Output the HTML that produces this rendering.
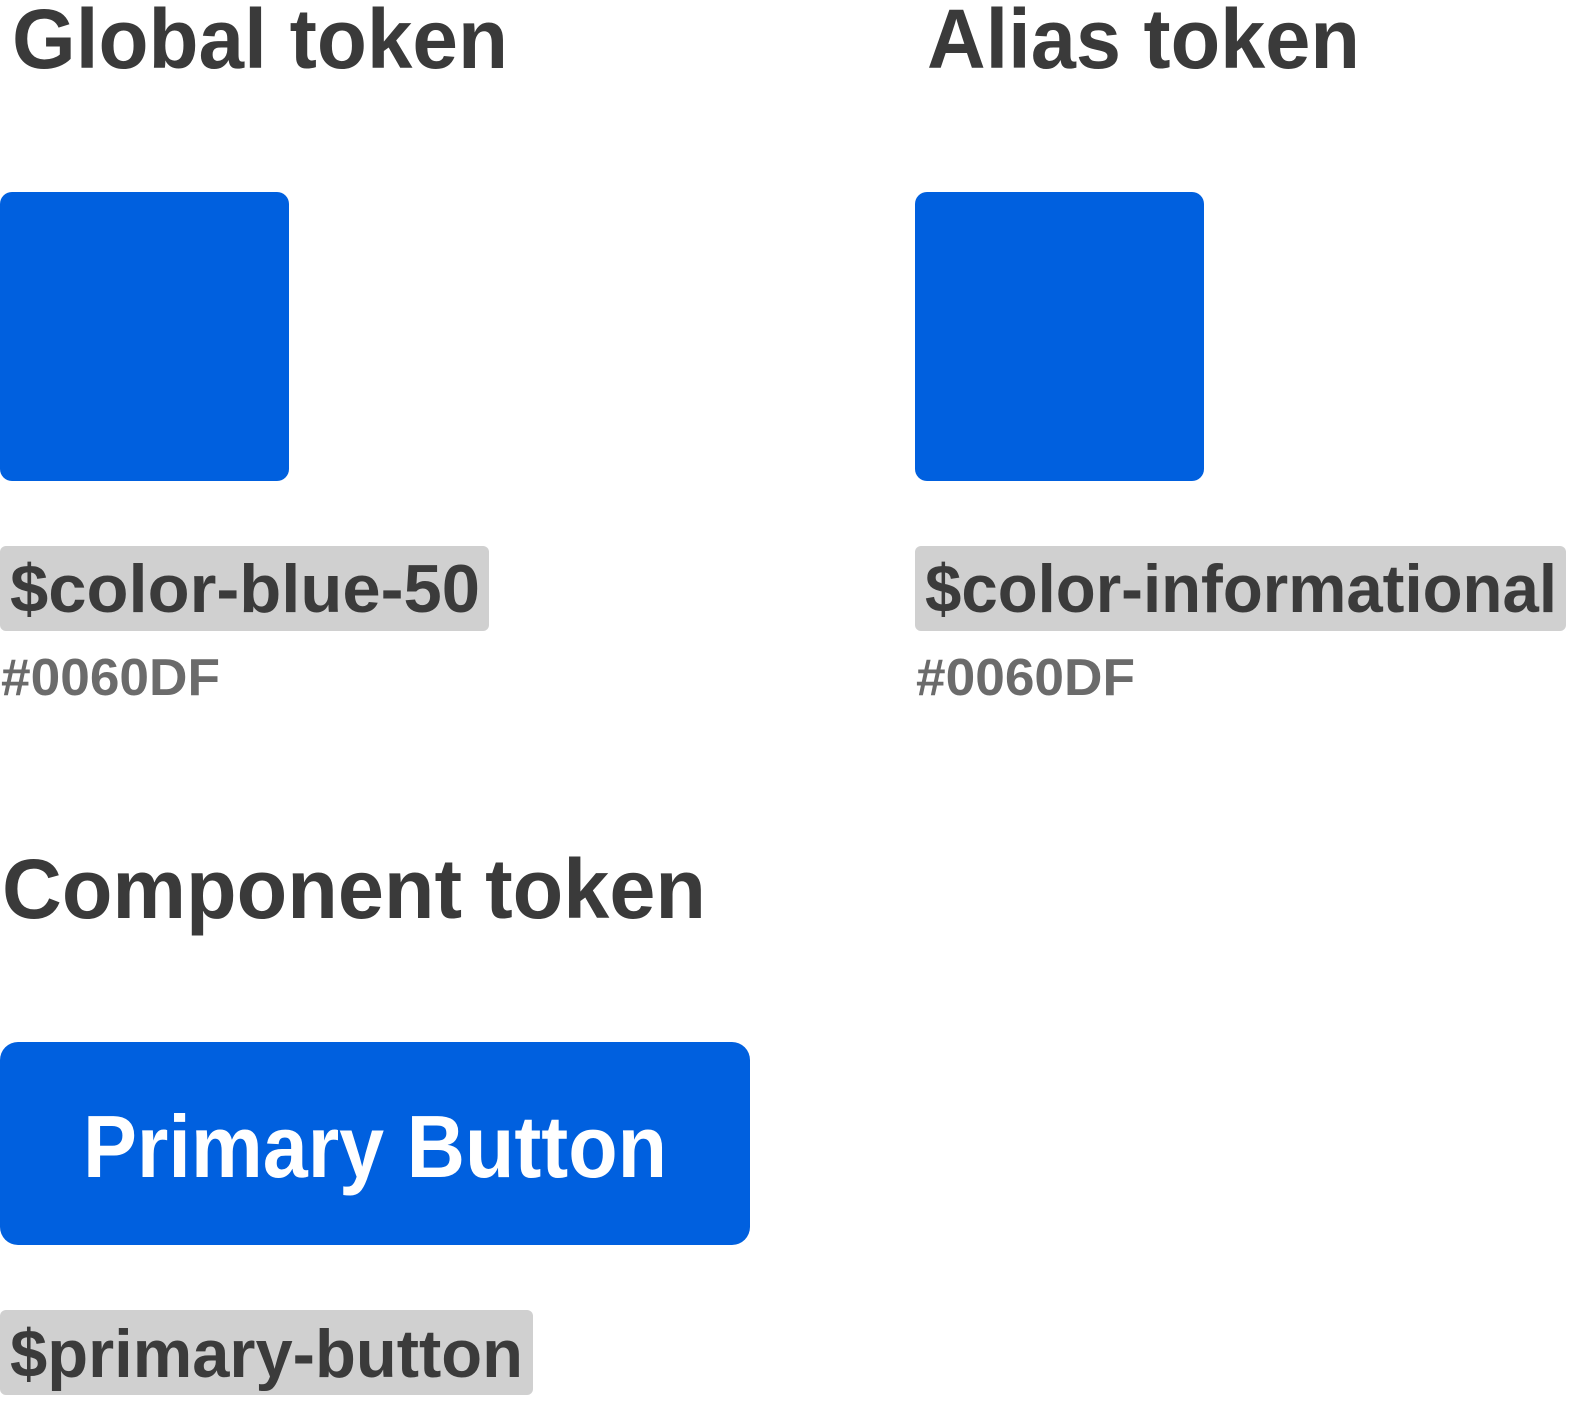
<!DOCTYPE html>
<html><head><meta charset="utf-8"><style>
html,body{margin:0;padding:0;background:#fff;width:1575px;height:1403px;overflow:hidden}
svg{display:block}
text{font-family:"Liberation Sans",sans-serif}
</style></head><body>
<svg width="1575" height="1403" viewBox="0 0 1575 1403" xmlns="http://www.w3.org/2000/svg">
<g fill="#3a3a3a" font-weight="bold">
<text x="12" y="68" font-size="84" textLength="496" lengthAdjust="spacingAndGlyphs">Global token</text>
<text x="927" y="68" font-size="84" textLength="433" lengthAdjust="spacingAndGlyphs">Alias token</text>
<text x="2" y="918" font-size="84" textLength="704" lengthAdjust="spacingAndGlyphs">Component token</text>
</g>
<rect x="0" y="192" width="289" height="289" rx="12" fill="#0060DF"/>
<rect x="915" y="192" width="289" height="289" rx="12" fill="#0060DF"/>
<rect x="0" y="546" width="489" height="85" rx="6" fill="#d0d0d0"/>
<rect x="915" y="546" width="651" height="85" rx="6" fill="#d0d0d0"/>
<rect x="0" y="1310" width="533" height="85" rx="6" fill="#d0d0d0"/>
<g fill="#3b3b3b" font-size="68" font-weight="bold">
<text x="10" y="612" textLength="470" lengthAdjust="spacingAndGlyphs">$color-blue-50</text>
<text x="925" y="612" textLength="632" lengthAdjust="spacingAndGlyphs">$color-informational</text>
<text x="10" y="1377" textLength="513" lengthAdjust="spacingAndGlyphs">$primary-button</text>
</g>
<g fill="#6b6b6b" font-size="52" font-weight="bold">
<text x="1" y="695" textLength="219" lengthAdjust="spacingAndGlyphs">#0060DF</text>
<text x="916" y="695" textLength="219" lengthAdjust="spacingAndGlyphs">#0060DF</text>
</g>
<rect x="0" y="1042" width="750" height="203" rx="18" fill="#0060DF"/>
<text x="83" y="1177" font-size="88" font-weight="bold" fill="#fff" textLength="584" lengthAdjust="spacingAndGlyphs">Primary Button</text>
</svg>
</body></html>
